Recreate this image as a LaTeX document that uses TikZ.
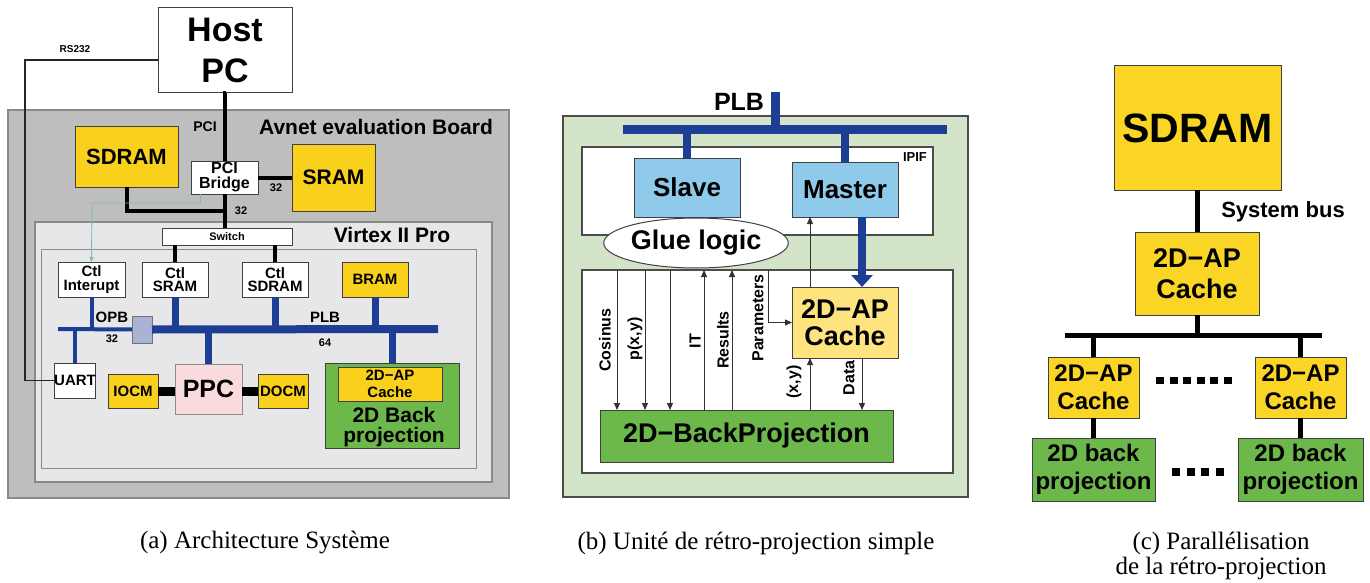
\documentclass[tikz,border=0pt]{standalone}
\usepackage{fontspec}
\setmainfont{Liberation Serif}
\setsansfont{Liberation Sans}
\usetikzlibrary{arrows.meta,shapes.geometric,calc}
\newcommand\myfs[2]{\fontsize{#1}{#2}\selectfont}
\definecolor{boardgray}{HTML}{BEBEBE}
\definecolor{virtexgray}{HTML}{E7E7E9}
\definecolor{edgegray}{HTML}{8A8A8A}
\definecolor{gold}{HTML}{F9D01C}
\definecolor{paleyellow}{HTML}{FDE47E}
\definecolor{cyellow}{HTML}{FBD526}
\definecolor{bpgreen}{HTML}{6DB84B}
\definecolor{busblue}{HTML}{1C3E94}
\definecolor{opbbox}{HTML}{A9B3D6}
\definecolor{ipblue}{HTML}{8FCAEA}
\definecolor{palegreen}{HTML}{D4E4C8}
\definecolor{ppcpink}{HTML}{FADADD}
\definecolor{tealline}{HTML}{86B8B8}
\begin{document}
\begin{tikzpicture}[x=1pt,y=-1pt,
  box/.style={draw=black!75, line width=1pt, inner sep=0pt, outer sep=0pt, align=center, font=\sffamily\bfseries},
  lbl/.style={inner sep=0pt, outer sep=0pt, align=center, font=\sffamily\bfseries},
  rlbl/.style={lbl, rotate=90, font=\sffamily\bfseries\myfs{16}{16}},
  captext/.style={inner sep=0pt, align=center, font=\rmfamily\myfs{25}{25}},
  blackbus/.style={line width=4pt, black},
  cbus/.style={line width=5pt, black},
  thickblue/.style={line width=7pt, busblue},
  thinblue/.style={line width=4pt, busblue},
  sig/.style={line width=1pt, black!80, -{Triangle[length=7pt,width=6pt]}},
  dotsq/.style={fill=black}
]
\useasboundingbox (0,0) rectangle (1370,583);
\fill[white] (0,0) rectangle (1370,583);

% ================= Panel (a) =================
\draw[fill=boardgray, draw=edgegray, line width=1.5pt] (8,110) rectangle (509,498);
\draw[fill=virtexgray, draw=edgegray, line width=1.2pt] (35,222) rectangle (492,482);
\draw[fill=virtexgray, draw=edgegray, line width=1pt] (41,249) rectangle (476,468);

\node[lbl, font=\sffamily\bfseries\myfs{21}{21}] (avnet) at (376,127) {Avnet evaluation Board};
\node[lbl, font=\sffamily\bfseries\myfs{21}{21}] (virtexlbl) at (392,235) {Virtex II Pro};

\node[box, fill=white, minimum width=134pt, minimum height=85pt, font=\sffamily\bfseries\myfs{34}{41}] (host) at (225,50.5) {Host\\PC};
\node[box, fill=gold, minimum width=103pt, minimum height=60pt, font=\sffamily\bfseries\myfs{22}{22}] (sdramA) at (126.5,157) {SDRAM};
\node[box, fill=white, minimum width=67pt, minimum height=33pt, font=\sffamily\bfseries\myfs{16}{15}] (bridge) at (224.5,177.5) {PCI\\Bridge};
\node[box, fill=gold, minimum width=83pt, minimum height=67pt, font=\sffamily\bfseries\myfs{21}{21}] (sram) at (333.5,177.5) {SRAM};
\node[box, fill=white, minimum width=130pt, minimum height=17pt, font=\sffamily\bfseries\myfs{11}{11}] (switch) at (227,236.5) {Switch};

\node[box, fill=white, minimum width=67pt, minimum height=35pt, font=\sffamily\bfseries\myfs{15}{13.5}] (ctlint) at (91.5,279.5) {Ctl\\Interupt};
\node[box, fill=white, minimum width=66pt, minimum height=35pt, font=\sffamily\bfseries\myfs{15}{13.5}] (ctlsram) at (175,279.5) {Ctl\\SRAM};
\node[box, fill=white, minimum width=66pt, minimum height=35pt, font=\sffamily\bfseries\myfs{15}{13.5}] (ctlsdram) at (275,279.5) {Ctl\\SDRAM};
\node[box, fill=gold, minimum width=66pt, minimum height=35pt, font=\sffamily\bfseries\myfs{15}{15}] (bram) at (375,279.5) {BRAM};

\node[box, fill=opbbox, draw=black!55, minimum width=20pt, minimum height=27pt] (opbb) at (142,329.5) {};
\coordinate (opbL) at (58,329);
\coordinate (plbR) at (438,329);

\node[box, fill=white, minimum width=34pt, minimum height=35pt, font=\sffamily\bfseries\myfs{15}{15}] (uart) at (75,380.5) {UART};
\node[box, fill=ppcpink, draw=black!45, minimum width=67pt, minimum height=50pt, font=\sffamily\bfseries\myfs{25}{25}] (ppc) at (208.5,389) {PPC};
\node[box, fill=gold, minimum width=50pt, minimum height=34pt, font=\sffamily\bfseries\myfs{15}{15}] (iocm) at (133,391) {IOCM};
\node[box, fill=gold, minimum width=50pt, minimum height=34pt, font=\sffamily\bfseries\myfs{15}{15}] (docm) at (283,391) {DOCM};
\node[box, fill=bpgreen, minimum width=134pt, minimum height=85pt] (back2d) at (392,405.5) {};
\node[box, fill=gold, minimum width=104pt, minimum height=34pt, font=\sffamily\bfseries\myfs{15}{17}] (cacheA) at (390,384) {2D−AP\\Cache};
\node[lbl, font=\sffamily\bfseries\myfs{21}{20}] (back2dtxt) at (394,427) {2D Back\\projection};

% labels
\node[lbl, font=\sffamily\bfseries\myfs{10}{10}] (rs232) at (75,49) {RS232};
\node[lbl, font=\sffamily\bfseries\myfs{14}{14}] (pcilbl) at (205,127) {PCI};
\node[lbl, font=\sffamily\bfseries\myfs{11}{11}] (n32a) at (276,188) {32};
\node[lbl, font=\sffamily\bfseries\myfs{11}{11}] (n32b) at (241,211) {32};
\node[lbl, font=\sffamily\bfseries\myfs{15}{15}] (opblbl) at (112,317) {OPB};
\node[lbl, font=\sffamily\bfseries\myfs{11}{11}] (n32c) at (112,339) {32};
\node[lbl, font=\sffamily\bfseries\myfs{15}{15}] (plblbl) at (325,317) {PLB};
\node[lbl, font=\sffamily\bfseries\myfs{11}{11}] (n64) at (325,343) {64};

% black connections
\coordinate (j32) at (225,211);
\draw[blackbus] (host.south) -- (bridge.south |- host.south) -- (bridge.north);
\draw[blackbus] (bridge.south) -- (bridge.south |- switch.north);
\draw[blackbus] (sdramA.south) |- (j32);
\draw[blackbus] (bridge.east) -- (sram.west);
\draw[blackbus] (ctlsram.north |- switch.south) -- (ctlsram.north);
\draw[blackbus] (ctlsdram.north |- switch.south) -- (ctlsdram.north);
\draw[line width=9pt, black] (iocm.east) -- (iocm.east -| ppc.west);
\draw[line width=9pt, black] (docm.west) -- (docm.west -| ppc.east);

% teal interrupt line
\coordinate (cy) at (92,203);
\draw[line width=0.9pt, tealline, -{Triangle[length=5pt,width=4pt]}] ([xshift=-24pt]bridge.south) |- (cy) -- (ctlint.north);

% RS232
\coordinate (rsc) at (25,380.5);
\draw[line width=1.2pt, black!85] ([yshift=-9.5pt]host.west) -| (rsc) -- (uart.west);

% buses
\draw[thinblue] (opbL) -- (opbb.west);
\draw[line width=8pt, busblue] (opbb.east) -- (plbR);
\draw[thinblue] (ctlint.south) -- (ctlint.south |- opbL);
\draw[thinblue] (uart.north) -- (uart.north |- opbL);
\draw[thickblue] (ctlsram.south) -- (ctlsram.south |- plbR);
\draw[thickblue] (ctlsdram.south) -- (ctlsdram.south |- plbR);
\draw[thickblue] (bram.south) -- (bram.south |- plbR);
\draw[thickblue] (ppc.north) -- (ppc.north |- plbR);
\draw[thickblue] (back2d.north) -- (back2d.north |- plbR);

% ================= Panel (b) =================
\draw[fill=palegreen, draw=black!70, line width=1.2pt] (563,116) rectangle (968,497);
\draw[fill=white, draw=black!70, line width=1.2pt] (582,147) rectangle (933,235);
\draw[fill=white, draw=black!70, line width=1.2pt] (582,270) rectangle (953,473);
\node[lbl, font=\sffamily\bfseries\myfs{13}{13}] (ipif) at (915,157) {IPIF};
\node[lbl, font=\sffamily\bfseries\myfs{25}{25}] (plbB) at (739,102) {PLB};

\coordinate (plbtop) at (775,92);
\coordinate (plbBL) at (623,130);
\coordinate (plbBR) at (947,130);
\draw[line width=9pt, busblue] (plbBL) -- (plbBR);
\draw[line width=9pt, busblue] (plbtop) -- (plbtop |- plbBL);

\node[box, fill=ipblue, minimum width=106pt, minimum height=59pt, font=\sffamily\bfseries\myfs{26}{26}] (slave) at (687,187.5) {Slave};
\node[box, fill=ipblue, minimum width=106pt, minimum height=55pt, font=\sffamily\bfseries\myfs{26}{26}] (master) at (845,189.5) {Master};
\draw[line width=8pt, busblue] (slave.north |- plbBL) -- (slave.north);
\draw[line width=8pt, busblue] (master.north |- plbBL) -- (master.north);

\node[ellipse, draw=black!75, line width=1pt, fill=white, minimum width=168pt, minimum height=50pt, inner sep=0pt, font=\sffamily\bfseries\myfs{27}{27}] (glue) at (696,243) {Glue logic};

\node[box, fill=paleyellow, minimum width=106pt, minimum height=71pt, font=\sffamily\bfseries\myfs{27}{27}] (cacheB) at (845,322.5) {2D−AP\\Cache};
\node[box, fill=bpgreen, minimum width=293pt, minimum height=52pt, font=\sffamily\bfseries\myfs{27}{27}] (bp) at (746.5,436) {2D−BackProjection};

\coordinate (s1) at (617,270);
\coordinate (s2) at (645,270);
\coordinate (s3) at (670,270);
\coordinate (s4) at (704,270);
\coordinate (s5) at (732,270);
\coordinate (p0) at (768,270);
\draw[sig] (s1) -- (s1 |- bp.north);
\draw[sig] (s2) -- (s2 |- bp.north);
\draw[sig] (s3) -- (s3 |- bp.north);
\draw[sig] (s4 |- bp.north) -- (s4);
\draw[sig] (s5 |- bp.north) -- (s5);
\draw[sig] (p0) |- (cacheB.west);
\draw[sig] ([xshift=-35pt]cacheB.north) -- ([xshift=-35pt]master.south);
\draw[sig] ([xshift=-35pt]cacheB.south |- bp.north) -- ([xshift=-35pt]cacheB.south);
\draw[sig] ([xshift=17pt]cacheB.south) -- ([xshift=17pt]cacheB.south |- bp.north);
\draw[line width=8pt, busblue, -{Triangle[length=12pt,width=21pt]}] ([xshift=17pt]master.south) -- ([xshift=17pt]cacheB.north);

\node[rlbl] (lcos) at (605,340) {Cosinus};
\node[rlbl] (lpxy) at (635,339) {p(x,y)};
\node[rlbl] (lit) at (695,341) {IT};
\node[rlbl] (lres) at (723,340) {Results};
\node[rlbl] (lpar) at (758,318) {Parameters};
\node[rlbl] (lxy) at (794,382) {(x,y)};
\node[rlbl] (ldata) at (849,378) {Data};

% ================= Panel (c) =================
\node[box, fill=cyellow, minimum width=167pt, minimum height=124pt, font=\sffamily\bfseries\myfs{41}{41}] (sdramC) at (1197.5,128) {SDRAM};
\node[box, fill=cyellow, minimum width=124pt, minimum height=83pt, font=\sffamily\bfseries\myfs{27}{31}] (cacheC) at (1197,273.5) {2D−AP\\Cache};
\node[box, fill=cyellow, minimum width=91pt, minimum height=61pt, font=\sffamily\bfseries\myfs{24}{28}] (cacheL) at (1093.5,387.5) {2D−AP\\Cache};
\node[box, fill=cyellow, minimum width=91pt, minimum height=61pt, font=\sffamily\bfseries\myfs{24}{28}] (cacheR) at (1300.5,387.5) {2D−AP\\Cache};
\node[box, fill=bpgreen, minimum width=123pt, minimum height=63pt, font=\sffamily\bfseries\myfs{24}{28}] (bpL) at (1093.5,469.5) {2D back\\projection};
\node[box, fill=bpgreen, minimum width=125pt, minimum height=63pt, font=\sffamily\bfseries\myfs{24}{28}] (bpR) at (1300.5,469.5) {2D back\\projection};
\node[lbl, font=\sffamily\bfseries\myfs{22}{22}] (sysbus) at (1283,212) {System bus};

\coordinate (cbL) at (1065,335);
\coordinate (cbR) at (1322,335);
\draw[cbus] (sdramC.south) -- (sdramC.south |- cacheC.north);
\draw[cbus] (cacheC.south) -- (cacheC.south |- cbL);
\draw[cbus] (cbL) -- (cbR);
\draw[cbus] (cacheL.north |- cbL) -- (cacheL.north);
\draw[cbus] (cacheR.north |- cbL) -- (cacheR.north);
\draw[cbus] (cacheL.south) -- (bpL.north);
\draw[cbus] (cacheR.south) -- (bpR.north);

\foreach \i in {0,...,5} {
  \fill[dotsq] ({1156+13.6*\i},376.5) rectangle ++(8,7);
}
\foreach \i in {0,...,3} {
  \fill[dotsq] ({1172+14.5*\i},468) rectangle ++(8,8);
}

% ================= Captions =================
\node[captext] (capa) at (265,543) {(a) Architecture Système};
\node[captext] (capb) at (756,543) {(b) Unité de rétro-projection simple};
\node[captext] (capc) at (1221,555.5) {(c) Parallélisation\\de la rétro-projection};
\end{tikzpicture}
\end{document}
